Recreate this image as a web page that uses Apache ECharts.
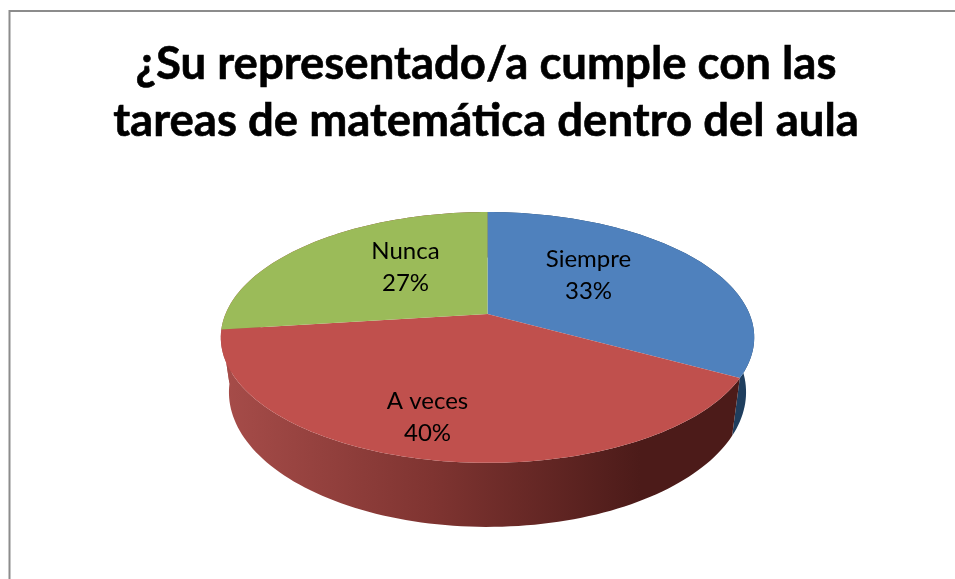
<!DOCTYPE html>
<html>
<head>
<meta charset="utf-8">
<style>html,body{margin:0;padding:0;background:#fff}#c{width:955px;height:579px}</style>
<script src="https://cdn.jsdelivr.net/npm/echarts@6/dist/echarts.min.js"></script>
</head>
<body>
<div id="c"></div>
<script>
const titleLines = ['¿Su representado/a cumple con las', 'tareas de matemática dentro del aula'];
const categories = ['Siempre', 'A veces', 'Nunca'];
const shares = [33, 40, 27];
const faceColors = ['#4F81BD', '#C0504D', '#9BBB59'];
const labelOffsets = [[101, -39], [-60, 103], [-82, -47]];

// Perspective projection of the round pie on screen
const TOP = {x: 487.5, y: 314, h: 121, s: 262, a: 0.187};
const BOTTOM = {x: 487.5, y: 367, h: 130, s: 254, a: 0.187};
function project(p, deg) {
  const t = deg * Math.PI / 180, u = Math.sin(t), v = Math.cos(t), d = 1 + p.a * v;
  return [p.x + p.s * u / d, p.y - p.h * v / d];
}
function arc(p, from, to) {
  const pts = [], n = Math.max(4, Math.ceil(Math.abs(to - from) / 1.5));
  for (let i = 0; i <= n; i++) pts.push(project(p, from + (to - from) * i / n));
  return pts;
}
const total = shares.reduce((a, b) => a + b, 0);

function wallFill(i) {
  if (i === 0) return '#1F3E5E';
  return new echarts.graphic.LinearGradient(225, 0, 640, 0, [
    {offset: 0, color: '#A64C49'},
    {offset: 0.5, color: '#7F3431'},
    {offset: 1, color: '#4C1B19'}
  ], true);
}

function renderItem(params, api) {
  const i = params.dataIndex, value = api.value(0);
  const before = shares.slice(0, i).reduce((a, b) => a + b, 0);
  const from = before / total * 360, to = from + value / total * 360;
  const topArc = arc(TOP, from, to), botArc = arc(BOTTOM, from, to);
  const apex = [TOP.x, TOP.y];
  const offset = labelOffsets[i];
  return {
    type: 'group',
    children: [
      {type: 'polygon', z2: 1, shape: {points: topArc.concat(botArc.slice().reverse())},
        style: {fill: wallFill(i)}},
      {type: 'polygon', z2: 5, shape: {points: [apex].concat(topArc)},
        style: {fill: faceColors[i]}},
      {type: 'text', z2: 10, x: apex[0] + offset[0], y: apex[1] + offset[1],
        style: {
          text: categories[i] + '\n' + Math.round(value / total * 100) + '%',
          fontFamily: 'Lato', fontSize: 24, lineHeight: 32, fill: '#000',
          align: 'center', verticalAlign: 'middle'
        }}
    ]
  };
}

const chart = echarts.init(document.getElementById('c'), null, {renderer: 'canvas'});
chart.setOption({
  animation: false,
  backgroundColor: '#fff',
  title: {
    text: titleLines.join('\n'), left: 481, top: 31, textAlign: 'center',
    textStyle: {fontFamily: 'Lato', fontWeight: 'bold', fontSize: 45.5, lineHeight: 57, color: '#000',
      textBorderColor: '#000', textBorderWidth: 0.6}
  },
  graphic: [{
    type: 'polyline', silent: true,
    shape: {points: [[9.5, 579], [9.5, 11], [955, 11]]},
    style: {fill: null, stroke: '#8C8C8C', lineWidth: 2}
  }],
  series: [{
    type: 'custom', coordinateSystem: 'none', silent: true,
    renderItem,
    data: shares.map((v, i) => ({name: categories[i], value: [v]}))
  }]
});
</script>
</body>
</html>
